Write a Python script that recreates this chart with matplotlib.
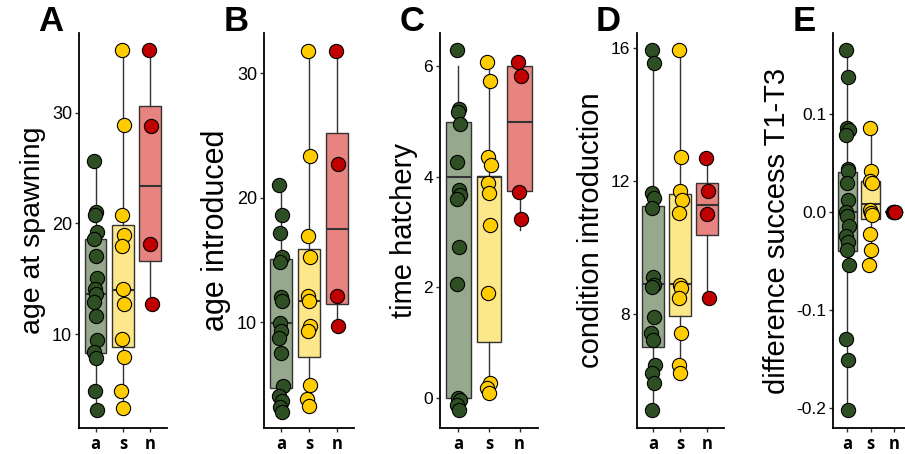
import numpy as np
import matplotlib
matplotlib.use("Agg")
import matplotlib.pyplot as plt

plt.rcParams['font.family'] = ['Liberation Sans', 'DejaVu Sans']

groups = ["a", "s", "n"]
point_cols = ["#2E4F24", "#FFCC00", "#C00000"]
box_cols = ["#97A98D", "#FCE78A", "#E8847F"]

# ---- A: age at spawning
spawn_a = [25.6, 21.0, 20.8, 19.2, 18.6, 17.1, 15.1, 14.1, 13.6, 12.9, 11.6, 9.5, 8.4, 7.8, 4.9, 3.1]
spawn_s = [35.7, 28.9, 20.8, 19.0, 18.0, 14.1, 12.7, 9.6, 7.9, 4.9, 3.3]
spawn_n = [35.7, 28.8, 18.1, 12.7]
# box stats: whislo, q1, med, q3, whishi
spawn_box = [[3.1, 8.3, 13.6, 18.6, 25.6],
             [3.3, 8.8, 14.0, 19.9, 35.7],
             [12.7, 16.6, 23.4, 30.6, 35.7]]

# ---- B: age introduced
intro_a = [21.0, 18.6, 17.2, 15.2, 14.8, 12.0, 11.7, 9.9, 9.3, 8.7, 7.5, 4.9, 4.1, 3.7, 3.2, 2.8]
intro_s = [31.8, 23.3, 16.9, 15.2, 12.1, 11.7, 9.7, 9.3, 5.0, 3.8, 3.3]
intro_n = [31.8, 22.7, 12.1, 9.7]
intro_box = [[2.8, 4.7, 9.9, 15.1, 21.0],
             [3.3, 7.2, 11.7, 15.9, 31.8],
             [9.7, 11.5, 17.5, 25.2, 31.8]]

# ---- C: time hatchery
hatch_a = [6.3, 5.23, 5.17, 4.96, 4.26, 3.76, 3.67, 3.6, 2.73, 2.06, 0.0, -0.04, -0.13, -0.22]
hatch_s = [6.08, 5.73, 4.36, 4.21, 3.89, 3.71, 3.12, 1.9, 0.27, 0.17, 0.08]
hatch_n = [6.08, 5.82, 3.72, 3.24]
hatch_box = [[0.0, 0.0, 4.0, 5.0, 6.0],
             [0.1, 1.0, 4.0, 4.02, 6.0],
             [3.03, 3.75, 5.0, 6.0, 6.0]]

# ---- D: condition introduction
cond_a = [15.95, 15.55, 11.64, 11.49, 11.19, 9.13, 8.88, 8.83, 7.93, 7.43, 7.23, 6.48, 6.24, 5.94, 5.14]
cond_s = [15.95, 12.74, 11.72, 11.44, 11.04, 8.88, 8.78, 8.48, 7.43, 6.48, 6.24]
cond_n = [12.71, 11.71, 11.02, 8.48]
cond_box = [[5.14, 7.03, 8.9, 11.27, 15.95],
            [6.24, 7.95, 8.9, 11.61, 15.95],
            [8.48, 10.38, 11.3, 11.96, 12.71]]

# ---- E: difference success T1-T3
diff_a = [0.165, 0.137, 0.085, 0.083, 0.078, 0.044, 0.042, 0.029, 0.012, 0.0, -0.004,
          -0.014, -0.024, -0.031, -0.039, -0.054, -0.129, -0.151, -0.202]
diff_s = [0.085, 0.042, 0.032, 0.029, 0.002, -0.001, -0.003, -0.022, -0.039, -0.054]
diff_n = [0.0, 0.0, 0.0, 0.0]
diff_box = [[-0.202, -0.040, 0.0, 0.041, 0.165],
            [-0.054, -0.007, 0.008, 0.032, 0.085],
            [0.0, 0.0, 0.0, 0.0, 0.0]]

panels = [
    ("A", "age at spawning", [spawn_a, spawn_s, spawn_n], spawn_box, (1.5, 37.2), [10, 20, 30], "%d"),
    ("B", "age introduced", [intro_a, intro_s, intro_n], intro_box, (1.5, 33.2), [10, 20, 30], "%d"),
    ("C", "time hatchery", [hatch_a, hatch_s, hatch_n], hatch_box, (-0.55, 6.6), [0, 2, 4, 6], "%d"),
    ("D", "condition introduction", [cond_a, cond_s, cond_n], cond_box, (4.58, 16.46), [8, 12, 16], "%d"),
    ("E", "difference success T1-T3", [diff_a, diff_s, diff_n], diff_box, (-0.22, 0.182), [-0.2, -0.1, 0.0, 0.1], "%.1f"),
]

# axes rectangles (fig fraction): left, width ; per panel font sizes (label, ticks)
rects = [(0.0873, 0.0972), (0.2917, 0.0994), (0.4862, 0.1083), (0.7035, 0.0961), (0.9208, 0.0826)]
sizes = [(20.5, 13), (22, 13), (21, 12.5), (21, 12.5), (21, 12.5)]
bottom, height = 0.057, 0.870

jit = [-0.05, 0.03, -0.02, 0.05, -0.04, 0.01, 0.04, -0.03, 0.02, -0.06, 0.0, 0.06]

fig = plt.figure(figsize=(9.05, 4.54), dpi=100)

for (letter, ylab, data, box, ylim, ticks, fmt), (left, w), (lfs, tfs) in zip(panels, rects, sizes):
    ax = fig.add_axes([left, bottom, w, height])
    stats = []
    for b in box:
        stats.append(dict(whislo=b[0], q1=b[1], med=b[2], q3=b[3], whishi=b[4], fliers=[]))
    bp = ax.bxp(stats, positions=[1, 2, 3], widths=0.8, patch_artist=True, showcaps=False,
                boxprops=dict(edgecolor="#333333", linewidth=1.0),
                whiskerprops=dict(color="#333333", linewidth=1.0),
                medianprops=dict(color="#333333", linewidth=1.5))
    for patch, c in zip(bp["boxes"], box_cols):
        patch.set_facecolor(c)
    for i, vals in enumerate(data):
        xs = [i + 1 + jit[k % len(jit)] for k in range(len(vals))]
        ax.scatter(xs, vals, s=105, color=point_cols[i], edgecolor="black", linewidth=0.8, zorder=3)
    ax.set_xlim(0.4, 3.6)
    ax.set_ylim(*ylim)
    ax.set_yticks(ticks)
    ax.set_yticklabels([fmt % t for t in ticks], fontsize=tfs)
    ax.set_xticks([1, 2, 3])
    ax.set_xticklabels(groups, fontsize=12, fontweight="bold", family="Open Sans")
    ax.set_ylabel(ylab, fontsize=lfs, labelpad=4)
    ax.tick_params(axis="both", length=3, width=1, color="#333333", pad=2)
    for s in ["top", "right"]:
        ax.spines[s].set_visible(False)
    for s in ["left", "bottom"]:
        ax.spines[s].set_linewidth(1.3)
    fig.text(left - 0.045, 0.99, letter, fontsize=25, fontweight="bold", va="top", ha="left")

fig.savefig("out.png", dpi=100)
